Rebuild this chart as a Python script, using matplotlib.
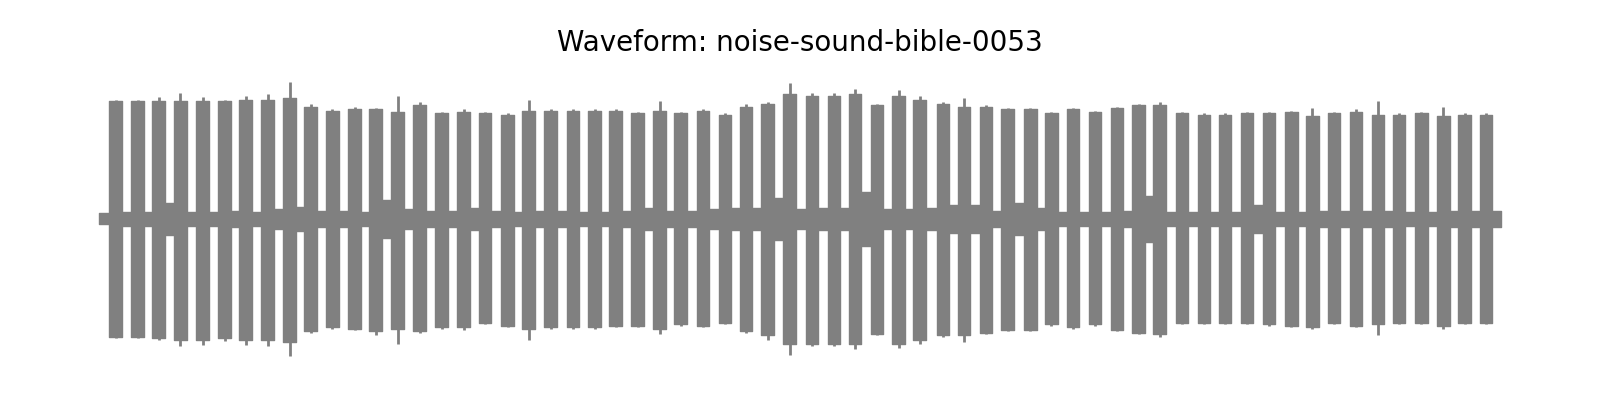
import numpy as np
import matplotlib
matplotlib.use("Agg")
import matplotlib.pyplot as plt

# burst onsets in seconds (clip is ~32 s long)
burst_start = [0.23, 0.73, 1.21, 1.71, 2.22, 2.72, 3.20, 3.70, 4.20, 4.68,
               5.18, 5.69, 6.17, 6.67, 7.17, 7.67, 8.18, 8.66, 9.18, 9.66,
               10.16, 10.67, 11.17, 11.65, 12.15, 12.65, 13.13, 13.64, 14.14, 14.62,
               15.12, 15.62, 16.13, 16.63, 17.11, 17.61, 18.11, 18.59, 19.12, 19.60,
               20.10, 20.60, 21.11, 21.59, 22.09, 22.59, 23.09, 23.59, 24.07, 24.58,
               25.08, 25.56, 26.06, 26.56, 27.07, 27.55, 28.05, 28.55, 29.05, 29.53,
               30.04, 30.54, 31.03, 31.52]
burst_len = 0.29
clip_end = 32.0

# plateau level of each burst (positive / negative side)
level_top = [0.86, 0.86, 0.86, 0.86, 0.86, 0.86, 0.87, 0.87, 0.88, 0.82,
             0.79, 0.80, 0.80, 0.78, 0.83, 0.77, 0.78, 0.77, 0.76, 0.79,
             0.79, 0.79, 0.79, 0.79, 0.77, 0.79, 0.77, 0.79, 0.76, 0.82,
             0.84, 0.91, 0.90, 0.90, 0.91, 0.83, 0.90, 0.87, 0.84, 0.82,
             0.82, 0.80, 0.80, 0.77, 0.80, 0.78, 0.81, 0.83, 0.83, 0.77,
             0.76, 0.76, 0.77, 0.77, 0.78, 0.75, 0.77, 0.78, 0.76, 0.76,
             0.77, 0.75, 0.76, 0.76]
level_bot = [0.86, 0.86, 0.87, 0.88, 0.88, 0.87, 0.88, 0.88, 0.90, 0.82,
             0.79, 0.80, 0.82, 0.80, 0.82, 0.79, 0.79, 0.76, 0.78, 0.80,
             0.79, 0.79, 0.79, 0.78, 0.78, 0.80, 0.77, 0.78, 0.76, 0.82,
             0.85, 0.91, 0.91, 0.91, 0.91, 0.84, 0.91, 0.88, 0.85, 0.85,
             0.83, 0.81, 0.81, 0.77, 0.79, 0.77, 0.81, 0.83, 0.84, 0.76,
             0.76, 0.76, 0.76, 0.77, 0.78, 0.79, 0.76, 0.78, 0.77, 0.76,
             0.76, 0.78, 0.76, 0.76]
# peak of each burst
peak_top = [0.87, 0.87, 0.89, 0.92, 0.89, 0.87, 0.90, 0.91, 1.00, 0.84,
            0.80, 0.82, 0.81, 0.90, 0.85, 0.78, 0.80, 0.78, 0.77, 0.87,
            0.80, 0.80, 0.80, 0.80, 0.78, 0.86, 0.78, 0.80, 0.77, 0.84,
            0.85, 0.99, 0.92, 0.92, 0.95, 0.84, 0.94, 0.90, 0.85, 0.88,
            0.83, 0.81, 0.81, 0.78, 0.81, 0.79, 0.82, 0.84, 0.85, 0.78,
            0.77, 0.77, 0.78, 0.78, 0.79, 0.81, 0.78, 0.80, 0.86, 0.77,
            0.78, 0.82, 0.77, 0.77]
peak_bot = [0.87, 0.87, 0.88, 0.93, 0.92, 0.89, 0.92, 0.93, 1.00, 0.83,
            0.80, 0.81, 0.85, 0.91, 0.83, 0.80, 0.81, 0.77, 0.79, 0.88,
            0.80, 0.80, 0.80, 0.79, 0.79, 0.84, 0.78, 0.79, 0.77, 0.83,
            0.88, 0.99, 0.93, 0.93, 0.95, 0.85, 0.94, 0.91, 0.86, 0.90,
            0.84, 0.82, 0.82, 0.78, 0.80, 0.78, 0.82, 0.84, 0.86, 0.77,
            0.77, 0.77, 0.77, 0.78, 0.79, 0.80, 0.77, 0.79, 0.85, 0.77,
            0.77, 0.80, 0.77, 0.77]

# background noise level: lead-in, the 63 gaps, tail
gap_amp = [0.04,
           0.05, 0.05, 0.12, 0.05, 0.05, 0.06, 0.05, 0.07, 0.09, 0.06,
           0.06, 0.05, 0.14, 0.07, 0.06, 0.06, 0.08, 0.06, 0.05, 0.06,
           0.06, 0.05, 0.05, 0.06, 0.08, 0.06, 0.06, 0.07, 0.08, 0.08,
           0.15, 0.07, 0.08, 0.08, 0.20, 0.07, 0.07, 0.08, 0.10, 0.10,
           0.06, 0.12, 0.08, 0.05, 0.05, 0.05, 0.06, 0.17, 0.05, 0.05,
           0.05, 0.05, 0.10, 0.05, 0.05, 0.06, 0.06, 0.06, 0.06, 0.05,
           0.05, 0.06, 0.06,
           0.06]

col = "gray"
fig = plt.figure(figsize=(16, 4), dpi=100)
ax = fig.add_axes([0.01, 0.07, 0.98, 0.7625])

# quiet parts between bursts
for i, a in enumerate(gap_amp):
    t0 = 0.0 if i == 0 else burst_start[i - 1] + burst_len
    t1 = clip_end if i == len(burst_start) else burst_start[i]
    ax.fill_between([t0, t1], [-a, -a], [a, a], color=col, lw=1.0)

# the bursts
for i, t in enumerate(burst_start):
    ax.fill_between([t, t + burst_len], [-level_bot[i]] * 2, [level_top[i]] * 2,
                    color=col, lw=1.0)
    tp = t + 0.5 * burst_len
    ax.vlines(tp, -peak_bot[i], peak_top[i], color=col, lw=2.0)

ax.set_xlim(-1.9, 33.9)
ax.set_ylim(-1.117, 1.109)
ax.axis("off")
fig.text(0.5, 1 - 43 / 400, "Waveform: noise-sound-bible-0053", ha="center", va="center",
         fontsize=20)
fig.savefig("out.png")
